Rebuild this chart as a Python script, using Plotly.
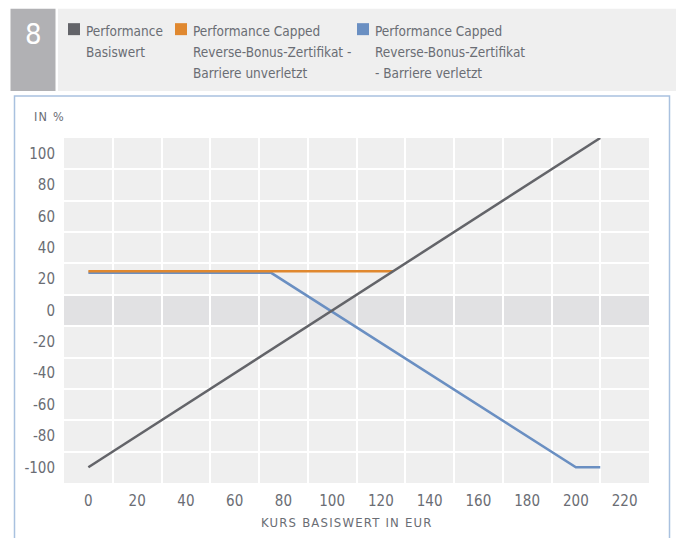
import plotly.graph_objects as go

# ---- data ----
basis_x = [0, 210]
basis_y = [-100, 110]
unverletzt_x = [0, 125]
unverletzt_y = [25, 25]
verletzt_x = [0, 75, 200, 210]
verletzt_y = [24, 24, -100, -100]
x_ticks = [0, 20, 40, 60, 80, 100, 120, 140, 160, 180, 200, 220]
y_ticks = [100, 80, 60, 40, 20, 0, -20, -40, -60, -80, -100]
series_names = [["Performance", "Basiswert"],
                ["Performance Capped", "Reverse-Bonus-Zertifikat -", "Barriere unverletzt"],
                ["Performance Capped", "Reverse-Bonus-Zertifikat", "- Barriere verletzt"]]
series_colors = ["#636469", "#e0882f", "#6a8fc2"]
chart_number = "8"
y_title = "IN %"
x_title = "KURS BASISWERT IN EUR"

FONT = "DejaVu Sans Condensed, sans-serif"
TXT = "#6a6d74"

W, H = 676, 538
L, R, T, B = 64, 27, 137.5, 55
pw, ph = W - L - R, H - T - B

def px(x):
    return (x - L) / pw

def py(y):
    return (H - B - y) / ph

fig = go.Figure()
fig.add_trace(go.Scatter(x=verletzt_x, y=verletzt_y, mode="lines",
                         line=dict(color=series_colors[2], width=2.5), showlegend=False))
fig.add_trace(go.Scatter(x=unverletzt_x, y=unverletzt_y, mode="lines",
                         line=dict(color=series_colors[1], width=2.5), showlegend=False))
fig.add_trace(go.Scatter(x=basis_x, y=basis_y, mode="lines",
                         line=dict(color=series_colors[0], width=2.5), showlegend=False))

shapes = []
# zero band
shapes.append(dict(type="rect", xref="paper", yref="y", x0=0, x1=1, y0=-10, y1=10,
                   fillcolor="#e1e1e3", line=dict(width=0), layer="below"))
# chart frame
shapes.append(dict(type="rect", xref="paper", yref="paper", x0=px(14.5), x1=px(669.5),
                   y0=py(560), y1=py(95.5), line=dict(color="#a9c1df", width=1.5),
                   fillcolor="rgba(0,0,0,0)", layer="below"))
# header boxes
shapes.append(dict(type="rect", xref="paper", yref="paper", x0=px(10.5), x1=px(55.5),
                   y0=py(90.5), y1=py(8), fillcolor="#b1b1b4", line=dict(width=0), layer="below"))
shapes.append(dict(type="rect", xref="paper", yref="paper", x0=px(58), x1=px(676),
                   y0=py(90.5), y1=py(8), fillcolor="#efefef", line=dict(width=0), layer="below"))

annotations = []
annotations.append(dict(x=px(33), y=py(33), xref="paper", yref="paper", text=chart_number,
                        showarrow=False, xanchor="center", yanchor="middle",
                        font=dict(family=FONT, size=29, color="white")))
leg_sq_x = [68, 175, 357]
line_y = [30, 51, 72.5]
for i, lines in enumerate(series_names):
    sx = leg_sq_x[i]
    shapes.append(dict(type="rect", xref="paper", yref="paper", x0=px(sx), x1=px(sx + 12),
                       y0=py(34.5), y1=py(22.5), fillcolor=series_colors[i], line=dict(width=0)))
    for j, t in enumerate(lines):
        annotations.append(dict(x=px(sx + 16), y=py(line_y[j]), xref="paper", yref="paper",
                                text=t, showarrow=False, xanchor="left", yanchor="middle",
                                font=dict(family=FONT, size=13.5, color=TXT)))
annotations.append(dict(x=px(32), y=py(116), xref="paper", yref="paper",
                        text='<span style="letter-spacing:1.2px">' + y_title + '</span>',
                        showarrow=False, xanchor="left", yanchor="middle",
                        font=dict(family=FONT, size=12.5, color=TXT)))
annotations.append(dict(x=px(347), y=py(523), xref="paper", yref="paper",
                        text='<span style="letter-spacing:1.2px">' + x_title + '</span>',
                        showarrow=False, xanchor="center", yanchor="middle",
                        font=dict(family=FONT, size=13, color=TXT)))

fig.update_layout(
    width=W, height=H,
    margin=dict(l=L, r=R, t=T, b=B),
    paper_bgcolor="white", plot_bgcolor="#efefef",
    shapes=shapes, annotations=annotations,
    font=dict(family=FONT, size=15, color=TXT),
    showlegend=False,
)
fig.update_xaxes(range=[-10, 230], tickvals=x_ticks, ticktext=[str(v) for v in x_ticks],
                 showgrid=False, zeroline=False,
                 ticks="outside", ticklen=4, tickcolor="rgba(0,0,0,0)",
                 minor=dict(tickvals=list(range(10, 230, 20)), showgrid=True,
                            gridcolor="white", gridwidth=1.5, ticks=""),
                 showline=False, fixedrange=True)
fig.update_yaxes(range=[-110, 110], tickvals=y_ticks, ticktext=[str(v) for v in y_ticks],
                 showgrid=False, zeroline=False,
                 ticks="outside", ticklen=5, tickcolor="rgba(0,0,0,0)",
                 minor=dict(tickvals=list(range(-90, 110, 20)), showgrid=True,
                            gridcolor="white", gridwidth=1.5, ticks=""),
                 showline=False, fixedrange=True)

fig.write_html("out.html", config={"displayModeBar": False},
               post_script="document.body.style.margin='0';")
